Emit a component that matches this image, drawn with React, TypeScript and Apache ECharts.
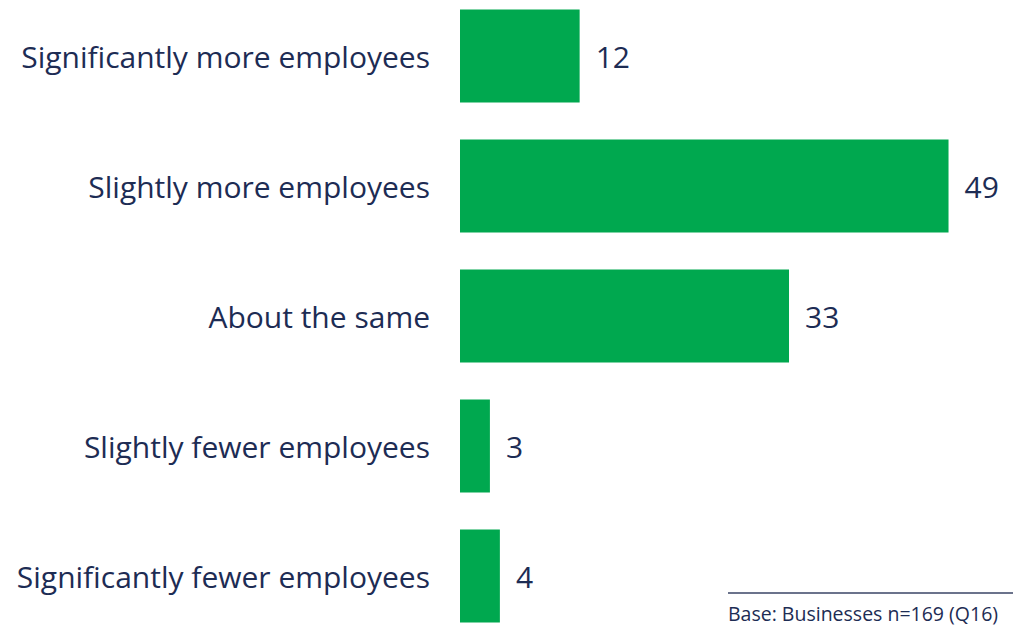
import React, { useEffect, useRef } from "react";
import * as echarts from "echarts";

const categories = [
  "Significantly more employees",
  "Slightly more employees",
  "About the same",
  "Slightly fewer employees",
  "Significantly fewer employees",
];
const values = [12, 49, 33, 3, 4];
const baseNote = "Base: Businesses n=169 (Q16)";

const TEXT = "#1d2c54";
const GREEN = "#00a84f";
const FONT = "'Open Sans', sans-serif";
const OFF = 9;

export default function App() {
  const ref = useRef<HTMLDivElement>(null);
  useEffect(() => {
    if (!ref.current) return;
    const chart = echarts.init(ref.current, null, { renderer: "svg" });
    chart.setOption({
      animation: false,
      grid: { left: 460, top: 0, height: 650, width: 498.5 },
      xAxis: {
        type: "value",
        min: 0,
        max: 50,
        show: false,
      },
      yAxis: {
        type: "category",
        data: categories,
        inverse: true,
        axisLine: { show: false },
        axisTick: { show: false },
        axisLabel: {
          margin: 30,
          fontSize: 30,
          color: TEXT,
          fontFamily: FONT,
        },
      },
      series: [
        {
          type: "bar",
          data: values,
          barWidth: 93,
          itemStyle: { color: GREEN },
          label: {
            show: true,
            position: "right",
            distance: 16,
            fontSize: 30,
            color: TEXT,
            fontFamily: FONT,
          },
        },
      ],
      graphic: [
        {
          type: "line",
          shape: { x1: 728, y1: 593 + OFF, x2: 1013, y2: 593 + OFF },
          style: { stroke: "#3a4566", lineWidth: 1.5 },
        },
        {
          type: "text",
          x: 728,
          y: 613 + OFF,
          style: {
            text: baseNote,
            fontSize: 19.5,
            fill: TEXT,
            fontFamily: FONT,
            textVerticalAlign: "middle",
          },
        },
      ],
    });
    return () => chart.dispose();
  }, []);
  return (
    <div
      ref={ref}
      style={{ position: "absolute", left: 0, top: -OFF, width: 1014, height: 650 }}
    />
  );
}
